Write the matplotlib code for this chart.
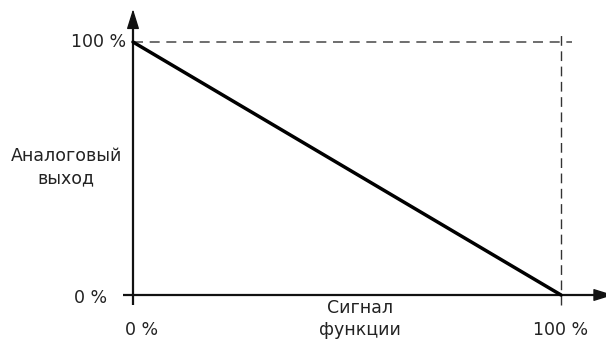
import matplotlib
matplotlib.use("Agg")
import matplotlib.pyplot as plt

plt.rcParams['font.family'] = ['DejaVu Sans']

signal = [0, 100]
output = [100, 0]
x_ticks = [0, 100]
x_tick_labels = ["0 %", "100 %"]
y_ticks = [0, 100]
y_tick_labels = ["0 %", "100 %"]
x_label = "Сигнал\nфункции"
y_label = "Аналоговый\nвыход"

fig = plt.figure(figsize=(6.06, 3.43), dpi=100)
ax = fig.add_axes([0, 0, 1, 1])
ax.set_xlim(-31.07, 110.5)
ax.set_ylim(-18.97, 116.6)
ax.axis('off')

# dashed reference lines
ax.plot([0, 102.5], [100, 100], color='#555555', lw=1.2, ls=(0, (6, 4)))
ax.plot([100, 100], [-4, 104], color='#333333', lw=1.0, ls=(0, (7, 4)))

# axes
ax.plot([-2.3, 108], [0, 0], color='#111111', lw=1.6, solid_capstyle='butt')
ax.plot([0, 0], [-4, 108], color='#111111', lw=1.6, solid_capstyle='butt')
ax.annotate('', xy=(112.2, 0), xytext=(106, 0), annotation_clip=False,
            arrowprops=dict(arrowstyle='-|>,head_length=1.22,head_width=0.38', color='#111111', lw=1.0,
                            shrinkA=0, shrinkB=0))
ax.annotate('', xy=(0, 113.0), xytext=(0, 105), annotation_clip=False,
            arrowprops=dict(arrowstyle='-|>,head_length=1.22,head_width=0.38', color='#111111', lw=1.0,
                            shrinkA=0, shrinkB=0))

# main line
ax.plot(signal, output, color='#000000', lw=2.5, solid_capstyle='round')

fs = 12.5
ax.text(-1.6, y_ticks[1], y_tick_labels[1], ha='right', va='center', fontsize=fs, color='#222222')
ax.text(-6.0, y_ticks[0] - 1, y_tick_labels[0], ha='right', va='center', fontsize=fs, color='#222222')
ax.text(x_ticks[0] + 2, -14, x_tick_labels[0], ha='center', va='center', fontsize=fs, color='#222222')
ax.text(x_ticks[1], -14, x_tick_labels[1], ha='center', va='center', fontsize=fs, color='#222222')
ax.text(53, -9.5, x_label, ha='center', va='center', fontsize=fs, color='#222222', linespacing=1.25)
ax.text(-15.6, 50.5, y_label, ha='center', va='center', fontsize=fs, color='#222222', linespacing=1.25)

fig.savefig('out.png', dpi=100)
